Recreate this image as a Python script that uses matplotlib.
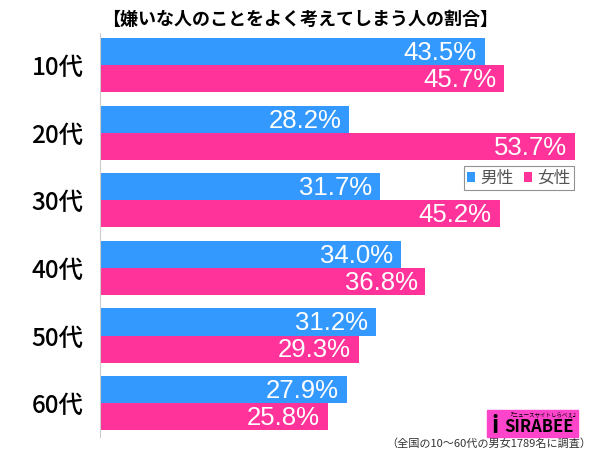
import numpy as np
import matplotlib.pyplot as plt
from matplotlib.patches import Rectangle

plt.rcParams['font.family'] = ['Noto Sans CJK JP', 'DejaVu Sans']

# データ
categories = ['10代', '20代', '30代', '40代', '50代', '60代']
male = [43.5, 28.2, 31.7, 34.0, 31.2, 27.9]
female = [45.7, 53.7, 45.2, 36.8, 29.3, 25.8]

blue = '#3399ff'
pink = '#ff3399'

fig = plt.figure(figsize=(6, 4.49), dpi=100)
ax = fig.add_axes([0.1667, 0.027, 0.8033, 0.90])

y = np.arange(len(categories))
h = 0.40
ax.barh(y - h / 2, male, height=h, color=blue, label='男性')
ax.barh(y + h / 2, female, height=h, color=pink, label='女性')

# バーのラベル
for i in range(len(categories)):
    ax.text(male[i] - 0.9, y[i] - h / 2 + 0.02, f'{male[i]:.1f}%', color='white',
            ha='right', va='center', fontsize=18.5, family='Liberation Sans')
    ax.text(female[i] - 0.9, y[i] + h / 2 + 0.02, f'{female[i]:.1f}%', color='white',
            ha='right', va='center', fontsize=18.5, family='Liberation Sans')

ax.set_xlim(0, 54.5)
ax.set_ylim(5.5, -0.48)
ax.set_yticks(y)
ax.set_yticklabels(categories, fontsize=17.5, fontweight='medium')
ax.tick_params(axis='y', length=0, pad=12)
ax.set_xticks([])
for s in ['top', 'right', 'bottom']:
    ax.spines[s].set_visible(False)
ax.spines['left'].set_color('#cccccc')

leg = ax.legend(loc='upper right', bbox_to_anchor=(1.0, 0.69), ncol=2,
                fontsize=12, handlelength=0.5, handleheight=0.5,
                handletextpad=0.3, columnspacing=0.6, fancybox=False,
                edgecolor='#777777', borderpad=0.2)
for t in leg.get_texts():
    t.set_color('#555555')
leg.get_frame().set_linewidth(0.8)

# タイトル
fig.text(0.5, 0.957, '【嫌いな人のことをよく考えてしまう人の割合】',
         ha='center', va='center', fontsize=13, fontweight='bold')

# ロゴ
fig.patches.append(Rectangle((0.812, 0.027), 0.152, 0.06,
                             transform=fig.transFigure, color='#ff44cc',
                             zorder=5))
fig.text(0.898, 0.050, 'SIRABEE', ha='center', va='center', fontsize=12,
         fontweight='bold', style='italic', color='black', zorder=6)
fig.text(0.905, 0.077, '『ニュースサイトしらべぇ』', ha='center', va='center',
         fontsize=4, color='black', zorder=6)
fig.text(0.825, 0.052, 'i', ha='center', va='center', fontsize=17,
         fontweight='bold', color='black', zorder=6)

# 注釈
fig.text(0.985, 0.012, '（全国の10～60代の男女1789名に調査）', ha='right',
         va='center', fontsize=8, color='#333333')

fig.savefig('out.png', dpi=100)
